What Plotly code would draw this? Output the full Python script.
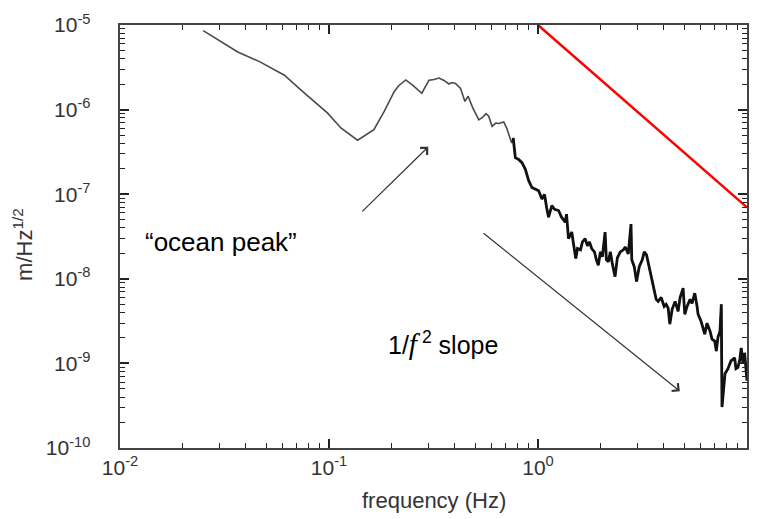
import numpy as np
import plotly.graph_objects as go

# ---- data ----
freq_hz = [0.0250, 0.0300, 0.0366, 0.0465, 0.0612, 0.0735, 0.0851, 0.0985, 0.114, 0.137,
           0.164, 0.184, 0.205, 0.216, 0.233, 0.252, 0.278, 0.288, 0.301, 0.318,
           0.336, 0.355, 0.375, 0.387, 0.403, 0.426, 0.447, 0.463, 0.488, 0.521,
           0.544, 0.564, 0.581, 0.603, 0.628, 0.649, 0.686, 0.708, 0.724, 0.748,
           0.761, 0.779, 0.808, 0.838, 0.870, 0.902, 0.935, 0.971, 1.007, 1.044,
           1.075, 1.099, 1.123, 1.165, 1.200, 1.254, 1.296, 1.350, 1.369, 1.399,
           1.451, 1.479, 1.516, 1.545, 1.597, 1.632, 1.681, 1.724, 1.763, 1.807,
           1.862, 1.903, 1.945, 1.988, 2.033, 2.094, 2.124, 2.171, 2.219, 2.268,
           2.337, 2.397, 2.477, 2.560, 2.617, 2.704, 2.786, 2.810, 2.888, 2.962,
           3.051, 3.154, 3.224, 3.306, 3.405, 3.492, 3.597, 3.677, 3.759, 3.885,
           4.015, 4.104, 4.195, 4.274, 4.384, 4.530, 4.682, 4.786, 4.946, 5.039,
           5.168, 5.341, 5.459, 5.625, 5.769, 5.832, 6.028, 6.278, 6.439, 6.655,
           6.803, 7.008, 7.131, 7.266, 7.428, 7.535, 7.592, 7.719, 7.847, 8.109,
           8.381, 8.729, 8.855, 9.049, 9.250, 9.382, 9.559, 9.739, 9.913, 10.0]

amp = [8.58e-6, 6.50e-6, 4.79e-6, 3.69e-6, 2.55e-6, 1.70e-6, 1.25e-6, 9.07e-7, 6.06e-7, 4.35e-7,
       5.79e-7, 9.58e-7, 1.63e-6, 1.93e-6, 2.24e-6, 1.93e-6, 1.56e-6, 1.83e-6, 2.23e-6, 2.27e-6,
       2.36e-6, 2.21e-6, 2.01e-6, 2.09e-6, 2.04e-6, 1.78e-6, 1.25e-6, 1.44e-6, 1.04e-6, 7.57e-7,
       8.15e-7, 8.95e-7, 8.37e-7, 6.34e-7, 6.93e-7, 6.84e-7, 7.12e-7, 6.06e-7, 5.05e-7, 4.04e-7,
       4.62e-7, 2.70e-7, 2.58e-7, 2.36e-7, 1.97e-7, 1.45e-7, 1.20e-7, 1.15e-7, 1.10e-7, 8.76e-8,
       9.95e-8, 7.00e-8, 5.35e-8, 7.33e-8, 6.64e-8, 6.41e-8, 5.35e-8, 4.68e-8, 5.80e-8, 2.98e-8,
       3.57e-8, 2.58e-8, 1.74e-8, 2.28e-8, 2.20e-8, 2.73e-8, 2.98e-8, 2.45e-8, 2.73e-8, 2.28e-8,
       2.08e-8, 1.68e-8, 1.45e-8, 2.08e-8, 1.82e-8, 3.57e-8, 1.68e-8, 1.59e-8, 2.08e-8, 1.51e-8,
       1.06e-8, 1.77e-8, 2.08e-8, 2.20e-8, 2.38e-8, 1.97e-8, 4.43e-8, 1.68e-8, 1.39e-8, 9.27e-9,
       1.39e-8, 1.68e-8, 2.08e-8, 1.92e-8, 1.39e-8, 1.03e-8, 7.47e-9, 5.71e-9, 5.41e-9, 6.02e-9,
       4.72e-9, 4.99e-9, 4.51e-9, 2.91e-9, 4.36e-9, 5.41e-9, 4.13e-9, 6.02e-9, 7.74e-9, 3.81e-9,
       4.72e-9, 5.71e-9, 5.12e-9, 6.76e-9, 4.72e-9, 3.81e-9, 3.15e-9, 2.22e-9, 2.99e-9, 2.41e-9,
       1.94e-9, 1.84e-9, 1.40e-9, 2.05e-9, 2.41e-9, 4.99e-9, 3.05e-10, 5.47e-10, 7.55e-10, 8.65e-10,
       1.07e-9, 1.16e-9, 8.65e-10, 8.95e-10, 1.13e-9, 1.52e-9, 1.02e-9, 1.33e-9, 7.55e-10, 6.26e-10]

noisy_from_hz = 0.76   # above this frequency the trace is a dense, noisy black band

ref_freq = [1.0, 10.0]
ref_amp = [1e-5, 7e-8]

x_major = [1e-2, 1e-1, 1e0, 1e1]
x_major_text = ["10<sup>-2</sup>", "10<sup>-1</sup>", "10<sup>0</sup>", "10<sup>1</sup>"]
y_major = [1e-10, 1e-9, 1e-8, 1e-7, 1e-6, 1e-5]
y_major_text = ["10<sup>-10</sup>", "10<sup>-9</sup>", "10<sup>-8</sup>",
                "10<sup>-7</sup>", "10<sup>-6</sup>", "10<sup>-5</sup>"]
x_minor = [k * 10.0 ** e for e in range(-2, 1) for k in range(2, 10)]
y_minor = [k * 10.0 ** e for e in range(-10, -5) for k in range(2, 10)]

# annotation anchors (frequency, amplitude)
arrow1_tail = (0.142, 6.01e-8)
arrow1_tip = (0.2985, 3.63e-7)
arrow2_tail = (0.540, 3.57e-8)
arrow2_tip = (4.77, 4.69e-10)
ocean_label = (0.0303, 2.73e-8)
slope_label = (0.3527, 1.74e-9)

FONT = "Liberation Sans, Arial, sans-serif"
AX = "#444444"
TK = "#222222"
PAD = "\u00a0" * 4

noisy_f = [f for f in freq_hz if f >= noisy_from_hz]
noisy_a = [a for f, a in zip(freq_hz, amp) if f >= noisy_from_hz]

fig = go.Figure()
fig.add_trace(go.Scatter(x=freq_hz, y=amp, mode="lines",
                         line=dict(color="#4a4a4a", width=1.6), showlegend=False))
fig.add_trace(go.Scatter(x=noisy_f, y=noisy_a, mode="lines",
                         line=dict(color="#111111", width=2.8), showlegend=False))
fig.add_trace(go.Scatter(x=ref_freq, y=ref_amp, mode="lines", xaxis="x2", yaxis="y2",
                         line=dict(color="#ff0000", width=2.5), showlegend=False))

x_all = sorted(x_major + x_minor)
x_all_text = [x_major_text[x_major.index(v)] if v in x_major else "" for v in x_all]
y_all = sorted(y_major + y_minor)
y_all_text = [(y_major_text[y_major.index(v)] + PAD) if v in y_major else "" for v in y_all]

common = dict(type="log", showgrid=False, zeroline=False, showline=True, linecolor=AX,
              linewidth=2, mirror="ticks", ticks="inside", tickcolor=TK, tickmode="array")

fig.update_layout(
    template="simple_white",
    xaxis=dict(**common, range=[-2, 1], ticklen=5, tickwidth=1.4,
               tickvals=x_all, ticktext=x_all_text,
               tickfont=dict(family=FONT, size=21, color="#333333")),
    yaxis=dict(**common, range=[-10, -5], ticklen=5, tickwidth=1.4,
               tickvals=y_all, ticktext=y_all_text,
               tickfont=dict(family=FONT, size=21, color="#333333")),
    # overlay axes that carry the longer decade ticks
    xaxis2=dict(**common, range=[-2, 1], ticklen=9, tickwidth=1.6, tickvals=x_major,
                showticklabels=False, overlaying="x", anchor="y2", side="bottom"),
    yaxis2=dict(**common, range=[-10, -5], ticklen=9, tickwidth=1.6, tickvals=y_major,
                showticklabels=False, overlaying="y", anchor="x2", side="left"),
)

L = np.log10
anns = [
    dict(x=L(arrow1_tip[0]), y=L(arrow1_tip[1]), ax=L(arrow1_tail[0]), ay=L(arrow1_tail[1]),
         xref="x", yref="y", axref="x", ayref="y", text="", showarrow=True,
         arrowhead=4, arrowsize=1.6, arrowwidth=1.2, arrowcolor="#333333"),
    dict(x=L(arrow2_tip[0]), y=L(arrow2_tip[1]), ax=L(arrow2_tail[0]), ay=L(arrow2_tail[1]),
         xref="x", yref="y", axref="x", ayref="y", text="", showarrow=True,
         arrowhead=4, arrowsize=1.6, arrowwidth=1.2, arrowcolor="#333333"),
    dict(x=L(ocean_label[0]), y=L(ocean_label[1]), xref="x", yref="y", showarrow=False,
         text="\u201cocean peak\u201d", font=dict(family=FONT, size=26, color="#000000"),
         xanchor="center", yanchor="middle"),
    dict(x=L(slope_label[0]), y=L(slope_label[1]), xref="x", yref="y", showarrow=False,
         text="1/<span style=\"font-family:'Liberation Serif',serif;font-style:italic;font-size:29px\">f</span>"
              "\u2009<sup>2</sup> slope",
         font=dict(family=FONT, size=25, color="#000000"), xanchor="center", yanchor="middle"),
    dict(x=0.5, y=-0.125, xref="paper", yref="paper", showarrow=False,
         text="frequency (Hz)", font=dict(family=FONT, size=22, color="#333333"),
         xanchor="center", yanchor="middle"),
    dict(x=-0.155, y=0.482, xref="paper", yref="paper", showarrow=False, textangle=-90,
         text="m/Hz<sup>1/2</sup>", font=dict(family=FONT, size=22, color="#333333"),
         xanchor="center", yanchor="middle"),
]

fig.update_layout(
    width=760, height=519, autosize=False,
    margin=dict(l=120, r=11, t=21, b=71, pad=0),
    paper_bgcolor="white", plot_bgcolor="white",
    annotations=anns, showlegend=False,
)

fig.write_html("out.html")
